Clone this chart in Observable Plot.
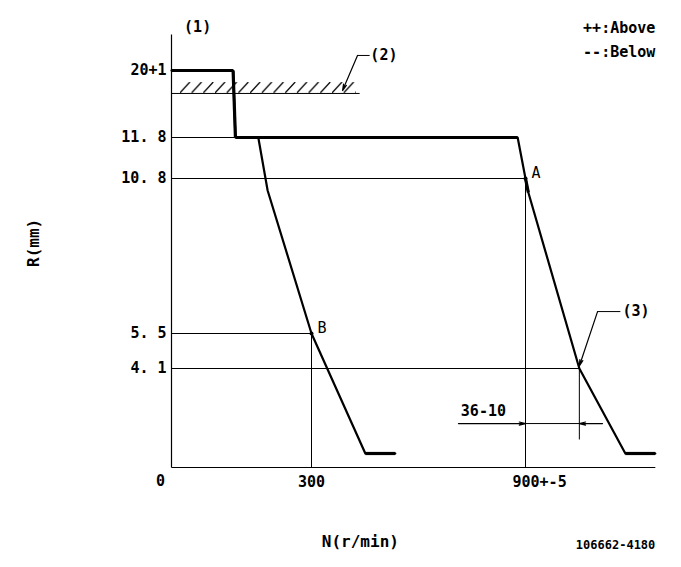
<!DOCTYPE html>
<html><head><meta charset="utf-8">
<script src="https://cdn.jsdelivr.net/npm/d3@7"></script>
<script src="https://cdn.jsdelivr.net/npm/@observablehq/plot@0.6"></script>
<style>body{margin:0;background:#fff}</style>
</head><body><div id="chart"></div>
<script>
// ---- tick values and labels (schematic, non-linear axes) ----
const yTicks = [4.1, 5.5, 10.8, 11.8, 20];
const yTickLabels = ["4. 1", "5. 5", "10. 8", "11. 8", "20+1"];
const xTicks = [0, 300, 900];
const xTickLabels = ["0", "300", "900+-5"];

// ---- governor curve (full load / high speed) ----
const curveN = [0, 132, 137, 878, 900, 908, 1051, 1180, 1264];
const curveR = [20, 20, 11.8, 11.8, 10.8, 10.32, 4.1, 0.58, 0.58];

// ---- idle curve ----
const idleN = [186, 206, 300, 451, 535];
const idleR = [11.8, 10.39, 5.5, 0.58, 0.58];

// ---- measuring points ----
const pointNames = ["A", "B"];
const pointN = [900, 300];
const pointR = [10.8, 5.5];

// ---- other annotations ----
const stopR = 17.19;                 // hatched stopper line (2)
const checkN = 1051, checkR = 4.1;   // point (3)
const dimText = "36-10";
const legendLines = ["++:Above", "--:Below"];

// schematic (piecewise-linear) axis mappings used as Plot scale transforms
const xMap = d3.scaleLinear().domain([0, 300, 900]).range([171, 311, 525]);
const yMap = d3.scaleLinear().domain([0, 4.1, 5.5, 10.8, 11.8, 20]).range([467, 368, 333, 178, 137, 70]);

const toRows = (ns, rs) => ns.map((n, i) => ({n, r: rs[i]}));
const curve = toRows(curveN, curveR);
const idle = toRows(idleN, idleR);
const segs = [];
for (const c of [curve, idle]) for (let i = 0; i < c.length - 1; i++) {
  const a = c[i], b = c[i + 1];
  if (a.r === b.r || Math.abs(b.n - a.n) < 10) segs.push({n1: a.n, r1: a.r, n2: b.n, r2: b.r});
}
const pts = pointNames.map((name, i) => ({name, n: pointN[i], r: pointR[i]}));

const hLines = [
  {n1: 0, n2: 137, r: 11.8},
  {n1: 0, n2: pointN[0], r: pointR[0]},
  {n1: 0, n2: pointN[1], r: pointR[1]},
  {n1: 0, n2: checkN, r: checkR},
  {n1: 0, n2: 435, r: stopR}
];
const vLines = [
  {n: pointN[1], r1: 0, r2: pointR[1]},
  {n: pointN[0], r1: 0, r2: pointR[0]},
  {n: checkN, r1: 1.16, r2: checkR}
];

const font = "'DejaVu Sans Mono', 'Liberation Mono', monospace";
const B = "bold";
const arrowStyle = {stroke: "#000", strokeWidth: 1.2, headLength: 8, headAngle: 28};

const plot = Plot.plot({
  width: 681,
  height: 567,
  margin: 0,
  x: {transform: xMap, domain: [0, 681], range: [0, 681], axis: null},
  y: {transform: yMap, domain: [0, 567], range: [0, 567], axis: null},
  style: {fontFamily: font, background: "#fff", color: "#000"},
  marks: [
    // hatched stopper
    Plot.rect([0], {x1: 19, x2: 426, y1: stopR, y2: 18.53, fill: "url(#hatch)"}),
    // axes
    Plot.link([0], {x1: 0, x2: 0, y1: 0, y2: 24.4, stroke: "#000", strokeWidth: 1.2}),
    Plot.link([0], {x1: 0, x2: 1264, y1: 0, y2: 0, stroke: "#000", strokeWidth: 1.2}),
    // reference lines
    Plot.link(hLines, {x1: "n1", x2: "n2", y1: "r", y2: "r", stroke: "#000", strokeWidth: 1}),
    Plot.link(vLines, {x1: "n", x2: "n", y1: "r1", y2: "r2", stroke: "#000", strokeWidth: 1}),
    // curves
    Plot.line(curve, {x: "n", y: "r", stroke: "#000", strokeWidth: 2.2}),
    Plot.line(idle, {x: "n", y: "r", stroke: "#000", strokeWidth: 2.2}),
    Plot.link(segs, {x1: "n1", y1: "r1", x2: "n2", y2: "r2", stroke: "#000", strokeWidth: 3.2}),
    // points A, B
    Plot.dot(pts, {x: "n", y: "r", r: 2, fill: "#000"}),
    Plot.text(pts, {x: "n", y: "r", text: "name", dx: 6, dy: -5, textAnchor: "start", fontSize: 15}),
    // dimension 36-10
    Plot.arrow([0], {x1: 712, x2: pointN[0], y1: 1.82, y2: 1.82, ...arrowStyle}),
    Plot.arrow([0], {x1: 1116, x2: checkN, y1: 1.82, y2: 1.82, ...arrowStyle}),
    Plot.link([0], {x1: pointN[0], x2: checkN, y1: 1.82, y2: 1.82, stroke: "#000", strokeWidth: 1}),
    Plot.text([dimText], {x: 782, y: 2.32, text: d => d, fontSize: 15, fontWeight: B}),
    // leader (2)
    Plot.link([0], {x1: 463, x2: 429, y1: 21.84, y2: 21.84, stroke: "#000", strokeWidth: 1}),
    Plot.arrow([0], {x1: 429, y1: 21.84, x2: 387, y2: 17.55, ...arrowStyle}),
    Plot.text(["(2)"], {x: 465, y: 21.84, text: d => d, textAnchor: "start", fontSize: 15, fontWeight: B}),
    // leader (3)
    Plot.link([0], {x1: 1166, x2: 1102, y1: 6.25, y2: 6.25, stroke: "#000", strokeWidth: 1}),
    Plot.arrow([0], {x1: 1102, y1: 6.25, x2: checkN, y2: 4.2, ...arrowStyle}),
    Plot.text(["(3)"], {x: 1172, y: 6.25, text: d => d, textAnchor: "start", fontSize: 15, fontWeight: B}),
    // (1)
    Plot.text(["(1)"], {x: 56, y: 25.26, text: d => d, fontSize: 15, fontWeight: B}),
    // y tick labels
    Plot.text(yTicks, {x: 0, y: d => d, text: (d, i) => yTickLabels[i], textAnchor: "end", dx: -5, fontSize: 15, fontWeight: B}),
    // x tick labels
    Plot.text([xTicks[0]], {x: d => d, y: 0, text: () => xTickLabels[0], dx: -11, dy: 14, fontSize: 15, fontWeight: B}),
    Plot.text([xTicks[1]], {x: d => d, y: 0, text: () => xTickLabels[1], dy: 15, fontSize: 15, fontWeight: B}),
    Plot.text([xTicks[2]], {x: d => d, y: 0, text: () => xTickLabels[2], dx: -13, dy: 15, textAnchor: "start", fontSize: 15, fontWeight: B}),
    // axis titles
    Plot.text(["R(mm)"], {x: -294, y: 8.6, text: d => d, rotate: -90, fontSize: 16, fontWeight: B}),
    Plot.text(["N(r/min)"], {x: 437, y: -3.06, text: d => d, fontSize: 16, fontWeight: B}),
    Plot.text(["106662-4180"], {x: 1264, y: -3.23, text: d => d, textAnchor: "end", fontSize: 12, fontWeight: B}),
    // legend
    Plot.text(legendLines, {x: 1264, y: (d, i) => [25.14, 22.2][i], text: d => d, textAnchor: "end", fontSize: 15, fontWeight: B})
  ]
});

// hatch pattern, aligned with the same scale mapping
const ns = "http://www.w3.org/2000/svg";
const defs = document.createElementNS(ns, "defs");
const x0 = xMap(19), y0 = yMap(18.53), h = yMap(stopR) - y0;
defs.innerHTML = `<pattern id="hatch" patternUnits="userSpaceOnUse" x="${x0}" y="${y0}" width="11.7" height="${h}"><line x1="0" y1="${h}" x2="10" y2="0" stroke="#000" stroke-width="1.3"/></pattern>`;
plot.insertBefore(defs, plot.firstChild);

document.getElementById("chart").appendChild(plot);
</script>
</body></html>
